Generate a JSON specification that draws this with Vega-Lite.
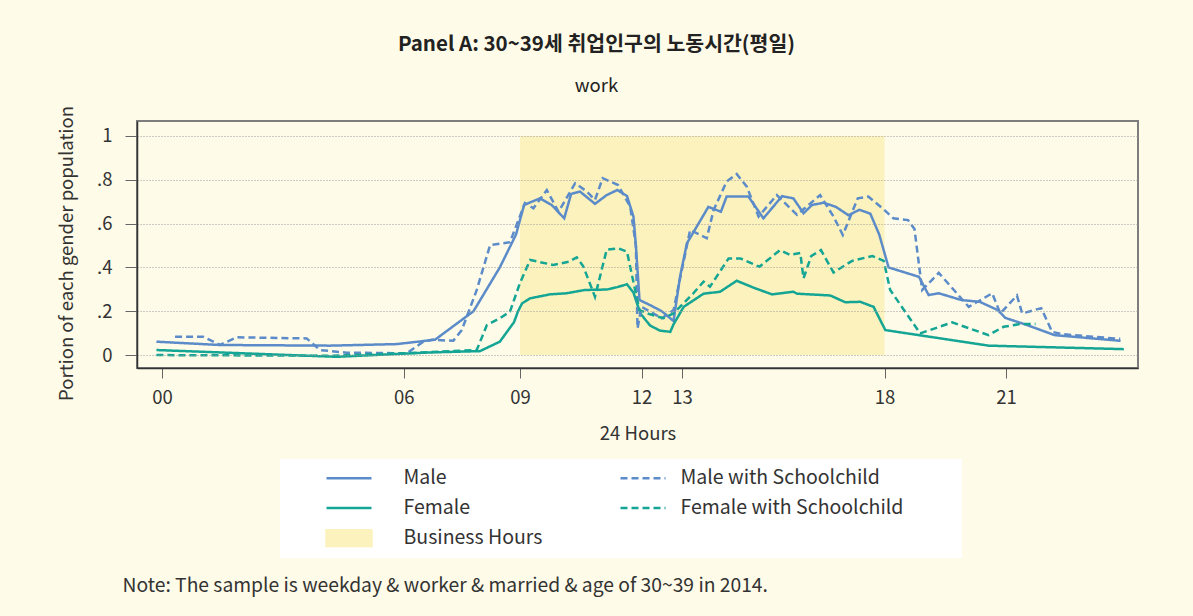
{
  "$schema": "https://vega.github.io/schema/vega-lite/v6.json",
  "width": 1001,
  "height": 247,
  "autosize": {"type": "none"},
  "padding": {"left": 137, "top": 121, "right": 55, "bottom": 248},
  "background": "#fefbe8",
  "config": {
    "view": {"fill": "#fefbe8", "stroke": "#7d7d7d", "strokeWidth": 2},
    "font": "Noto Sans CJK KR",
    "axis": {"labelFont": "Noto Sans CJK KR", "titleFont": "Noto Sans CJK KR", "labelColor": "#333", "titleColor": "#333", "titleFontWeight": "normal"},
    "legend": {"labelFont": "Noto Sans CJK KR", "titleFont": "Noto Sans CJK KR"}
  },
  "title": {
    "text": "Panel A: 30~39세 취업인구의 노동시간(평일)",
    "subtitle": "work",
    "font": "Noto Sans CJK KR",
    "fontSize": 20.5,
    "fontWeight": "bold",
    "color": "#222",
    "subtitleFont": "Noto Sans CJK KR",
    "subtitleFontSize": 18.5,
    "subtitleColor": "#222",
    "subtitlePadding": 22,
    "offset": 10,
    "dx": -41,
    "anchor": "middle"
  },
  "resolve": {"axis": {"x": "independent"}},
  "layer": [
    {
      "data": {"values": [{"start": 9, "end": 18, "lo": 0, "hi": 1, "series": "Business Hours"}]},
      "mark": {"type": "rect"},
      "encoding": {
        "x": {"field": "start", "type": "quantitative", "scale": {"domain": [-0.46, 24.26], "nice": false, "zero": false},
          "axis": {"orient": "top", "title": "Note: The sample is weekday & worker & married & age of 30~39 in 2014.", "labels": false, "ticks": false, "domain": false, "grid": false, "titleX": -15, "titleY": 464, "titleAlign": "left", "titleAnchor": "start", "titleBaseline": "middle", "titleFontSize": 19.3, "titlePadding": 0}},
        "x2": {"field": "end"},
        "y": {"field": "lo", "type": "quantitative", "scale": {"domain": [-0.059, 1.068], "nice": false, "zero": false}},
        "y2": {"field": "hi"},
        "color": {"field": "series", "type": "nominal",
          "scale": {"domain": ["Male", "Female", "Business Hours", "Male with Schoolchild", "Female with Schoolchild"], "range": ["#5b8bc9", "#14a594", "#fcf2bd", "#5b8bc9", "#14a594"]},
          "legend": {
            "orient": "none", "legendX": 143, "legendY": 338, "columns": 2,
            "title": "\u00a0", "titleOrient": "right", "titleFontSize": 19.5, "titlePadding": 49, "titleColor": "#333",
            "fillColor": "white", "padding": 10, "symbolType": "stroke", "symbolSize": 2025, "symbolStrokeWidth": 2.5,
            "symbolOffset": 35, "labelOffset": 30.5, "clipHeight": 18, "rowPadding": 10, "columnPadding": 41,
            "labelFontSize": 19.5, "labelColor": "#333", "labelLimit": 400,
            "encode": {
              "symbols": {"update": {
                "shape": {"signal": "datum.value === 'Business Hours' ? 'M-1,-0.38H1V0.38H-1Z' : 'stroke'"},
                "fill": {"signal": "datum.value === 'Business Hours' ? '#fcf2bd' : 'transparent'"},
                "stroke": {"signal": "datum.value === 'Business Hours' ? 'transparent' : (indexof(datum.value, 'Female') === 0 ? '#14a594' : '#5b8bc9')"},
                "strokeDash": {"signal": "indexof(datum.value, 'Schoolchild') >= 0 ? [7,4] : [1,0]"},
                "strokeWidth": {"value": 2.5},
                "opacity": {"value": 1}
              }},
              "labels": {"update": {
                "dx": {"signal": "indexof(datum.value, 'Schoolchild') >= 0 ? -17 : 0"}
              }}
            }
          }}
      }
    },
    {
      "data": {"values": [
        {"series":"Male","hour":0.02,"value":0.061},{"series":"Male","hour":1.59,"value":0.046},{"series":"Male","hour":4.31,"value":0.043},{"series":"Male","hour":5.95,"value":0.05},{"series":"Male","hour":6.9,"value":0.07},{"series":"Male","hour":7.85,"value":0.2},{"series":"Male","hour":8.5,"value":0.4},{"series":"Male","hour":8.9,"value":0.55},{"series":"Male","hour":9.1,"value":0.685},{"series":"Male","hour":9.49,"value":0.715},{"series":"Male","hour":9.78,"value":0.685},{"series":"Male","hour":10.09,"value":0.624},{"series":"Male","hour":10.26,"value":0.735},{"series":"Male","hour":10.48,"value":0.746},{"series":"Male","hour":10.85,"value":0.69},{"series":"Male","hour":11.14,"value":0.73},{"series":"Male","hour":11.4,"value":0.753},{"series":"Male","hour":11.64,"value":0.726},{"series":"Male","hour":11.8,"value":0.632},{"series":"Male","hour":11.86,"value":0.5},{"series":"Male","hour":11.95,"value":0.251},{"series":"Male","hour":12.21,"value":0.228},{"series":"Male","hour":12.5,"value":0.2},{"series":"Male","hour":12.79,"value":0.155},{"series":"Male","hour":12.95,"value":0.357},{"series":"Male","hour":13.12,"value":0.51},{"series":"Male","hour":13.65,"value":0.676},{"series":"Male","hour":13.96,"value":0.654},{"series":"Male","hour":14.1,"value":0.723},{"series":"Male","hour":14.64,"value":0.723},{"series":"Male","hour":15.01,"value":0.624},{"series":"Male","hour":15.47,"value":0.725},{"series":"Male","hour":15.75,"value":0.715},{"series":"Male","hour":16.0,"value":0.647},{"series":"Male","hour":16.21,"value":0.685},{"series":"Male","hour":16.5,"value":0.695},{"series":"Male","hour":16.8,"value":0.676},{"series":"Male","hour":17.11,"value":0.638},{"series":"Male","hour":17.38,"value":0.663},{"series":"Male","hour":17.65,"value":0.645},{"series":"Male","hour":17.87,"value":0.55},{"series":"Male","hour":18.1,"value":0.4},{"series":"Male","hour":18.85,"value":0.357},{"series":"Male","hour":19.09,"value":0.274},{"series":"Male","hour":19.34,"value":0.282},{"series":"Male","hour":19.9,"value":0.251},{"series":"Male","hour":20.35,"value":0.243},{"series":"Male","hour":20.8,"value":0.205},{"series":"Male","hour":20.98,"value":0.17},{"series":"Male","hour":21.52,"value":0.137},{"series":"Male","hour":22.2,"value":0.091},{"series":"Male","hour":23.83,"value":0.065},
        {"series":"Female","hour":0.02,"value":0.023},{"series":"Female","hour":4.47,"value":-0.008},{"series":"Female","hour":6.78,"value":0.012},{"series":"Female","hour":8.01,"value":0.018},{"series":"Female","hour":8.5,"value":0.061},{"series":"Female","hour":8.85,"value":0.15},{"series":"Female","hour":8.95,"value":0.2},{"series":"Female","hour":9.05,"value":0.236},{"series":"Female","hour":9.25,"value":0.259},{"series":"Female","hour":9.74,"value":0.277},{"series":"Female","hour":10.15,"value":0.282},{"series":"Female","hour":10.6,"value":0.297},{"series":"Female","hour":11.14,"value":0.299},{"series":"Female","hour":11.4,"value":0.31},{"series":"Female","hour":11.64,"value":0.323},{"series":"Female","hour":11.8,"value":0.285},{"series":"Female","hour":11.97,"value":0.19},{"series":"Female","hour":12.21,"value":0.135},{"series":"Female","hour":12.45,"value":0.112},{"series":"Female","hour":12.71,"value":0.106},{"series":"Female","hour":12.79,"value":0.14},{"series":"Female","hour":13.04,"value":0.22},{"series":"Female","hour":13.53,"value":0.28},{"series":"Female","hour":13.94,"value":0.289},{"series":"Female","hour":14.35,"value":0.339},{"series":"Female","hour":14.76,"value":0.308},{"series":"Female","hour":15.22,"value":0.277},{"series":"Female","hour":15.75,"value":0.289},{"series":"Female","hour":15.84,"value":0.28},{"series":"Female","hour":16.66,"value":0.272},{"series":"Female","hour":17.03,"value":0.241},{"series":"Female","hour":17.4,"value":0.243},{"series":"Female","hour":17.73,"value":0.22},{"series":"Female","hour":18.02,"value":0.114},{"series":"Female","hour":20.57,"value":0.043},{"series":"Female","hour":23.91,"value":0.027},
        {"series":"Male with Schoolchild","hour":0.48,"value":0.084},{"series":"Male with Schoolchild","hour":1.17,"value":0.084},{"series":"Male with Schoolchild","hour":1.59,"value":0.046},{"series":"Male with Schoolchild","hour":2.0,"value":0.081},{"series":"Male with Schoolchild","hour":3.73,"value":0.076},{"series":"Male with Schoolchild","hour":4.06,"value":0.023},{"series":"Male with Schoolchild","hour":4.72,"value":0.011},{"series":"Male with Schoolchild","hour":6.2,"value":0.008},{"series":"Male with Schoolchild","hour":6.61,"value":0.061},{"series":"Male with Schoolchild","hour":6.82,"value":0.07},{"series":"Male with Schoolchild","hour":7.35,"value":0.065},{"series":"Male with Schoolchild","hour":7.56,"value":0.114},{"series":"Male with Schoolchild","hour":7.93,"value":0.297},{"series":"Male with Schoolchild","hour":8.26,"value":0.502},{"series":"Male with Schoolchild","hour":8.75,"value":0.515},{"series":"Male with Schoolchild","hour":9.12,"value":0.693},{"series":"Male with Schoolchild","hour":9.33,"value":0.67},{"series":"Male with Schoolchild","hour":9.66,"value":0.753},{"series":"Male with Schoolchild","hour":9.95,"value":0.654},{"series":"Male with Schoolchild","hour":10.36,"value":0.784},{"series":"Male with Schoolchild","hour":10.65,"value":0.746},{"series":"Male with Schoolchild","hour":10.85,"value":0.708},{"series":"Male with Schoolchild","hour":11.04,"value":0.807},{"series":"Male with Schoolchild","hour":11.42,"value":0.776},{"series":"Male with Schoolchild","hour":11.72,"value":0.677},{"series":"Male with Schoolchild","hour":11.86,"value":0.5},{"series":"Male with Schoolchild","hour":11.9,"value":0.122},{"series":"Male with Schoolchild","hour":12.0,"value":0.22},{"series":"Male with Schoolchild","hour":12.5,"value":0.168},{"series":"Male with Schoolchild","hour":12.79,"value":0.205},{"series":"Male with Schoolchild","hour":13.2,"value":0.571},{"series":"Male with Schoolchild","hour":13.61,"value":0.533},{"series":"Male with Schoolchild","hour":13.78,"value":0.662},{"series":"Male with Schoolchild","hour":14.1,"value":0.791},{"series":"Male with Schoolchild","hour":14.35,"value":0.826},{"series":"Male with Schoolchild","hour":14.6,"value":0.768},{"series":"Male with Schoolchild","hour":14.89,"value":0.632},{"series":"Male with Schoolchild","hour":15.34,"value":0.73},{"series":"Male with Schoolchild","hour":15.84,"value":0.64},{"series":"Male with Schoolchild","hour":16.41,"value":0.73},{"series":"Male with Schoolchild","hour":16.74,"value":0.632},{"series":"Male with Schoolchild","hour":16.97,"value":0.548},{"series":"Male with Schoolchild","hour":17.34,"value":0.715},{"series":"Male with Schoolchild","hour":17.6,"value":0.723},{"series":"Male with Schoolchild","hour":17.98,"value":0.665},{"series":"Male with Schoolchild","hour":18.22,"value":0.624},{"series":"Male with Schoolchild","hour":18.58,"value":0.616},{"series":"Male with Schoolchild","hour":18.74,"value":0.575},{"series":"Male with Schoolchild","hour":18.93,"value":0.297},{"series":"Male with Schoolchild","hour":19.34,"value":0.375},{"series":"Male with Schoolchild","hour":20.08,"value":0.22},{"series":"Male with Schoolchild","hour":20.66,"value":0.282},{"series":"Male with Schoolchild","hour":20.86,"value":0.19},{"series":"Male with Schoolchild","hour":21.27,"value":0.272},{"series":"Male with Schoolchild","hour":21.4,"value":0.19},{"series":"Male with Schoolchild","hour":21.87,"value":0.214},{"series":"Male with Schoolchild","hour":22.14,"value":0.106},{"series":"Male with Schoolchild","hour":22.4,"value":0.095},{"series":"Male with Schoolchild","hour":23.82,"value":0.074},
        {"series":"Female with Schoolchild","hour":0.02,"value":0.0},{"series":"Female with Schoolchild","hour":4.31,"value":-0.003},{"series":"Female with Schoolchild","hour":6.12,"value":0.008},{"series":"Female with Schoolchild","hour":7.93,"value":0.023},{"series":"Female with Schoolchild","hour":8.18,"value":0.137},{"series":"Female with Schoolchild","hour":8.5,"value":0.168},{"series":"Female with Schoolchild","hour":8.75,"value":0.198},{"series":"Female with Schoolchild","hour":9.0,"value":0.33},{"series":"Female with Schoolchild","hour":9.25,"value":0.434},{"series":"Female with Schoolchild","hour":9.82,"value":0.411},{"series":"Female with Schoolchild","hour":10.2,"value":0.426},{"series":"Female with Schoolchild","hour":10.4,"value":0.446},{"series":"Female with Schoolchild","hour":10.56,"value":0.405},{"series":"Female with Schoolchild","hour":10.85,"value":0.266},{"series":"Female with Schoolchild","hour":11.14,"value":0.481},{"series":"Female with Schoolchild","hour":11.42,"value":0.487},{"series":"Female with Schoolchild","hour":11.64,"value":0.472},{"series":"Female with Schoolchild","hour":11.78,"value":0.35},{"series":"Female with Schoolchild","hour":11.95,"value":0.205},{"series":"Female with Schoolchild","hour":12.21,"value":0.186},{"series":"Female with Schoolchild","hour":12.54,"value":0.168},{"series":"Female with Schoolchild","hour":12.79,"value":0.19},{"series":"Female with Schoolchild","hour":13.28,"value":0.282},{"series":"Female with Schoolchild","hour":13.53,"value":0.335},{"series":"Female with Schoolchild","hour":13.69,"value":0.312},{"series":"Female with Schoolchild","hour":14.15,"value":0.441},{"series":"Female with Schoolchild","hour":14.44,"value":0.441},{"series":"Female with Schoolchild","hour":14.91,"value":0.403},{"series":"Female with Schoolchild","hour":15.42,"value":0.479},{"series":"Female with Schoolchild","hour":15.67,"value":0.457},{"series":"Female with Schoolchild","hour":15.92,"value":0.466},{"series":"Female with Schoolchild","hour":16.0,"value":0.35},{"series":"Female with Schoolchild","hour":16.19,"value":0.452},{"series":"Female with Schoolchild","hour":16.43,"value":0.479},{"series":"Female with Schoolchild","hour":16.74,"value":0.377},{"series":"Female with Schoolchild","hour":17.2,"value":0.43},{"series":"Female with Schoolchild","hour":17.7,"value":0.452},{"series":"Female with Schoolchild","hour":17.98,"value":0.43},{"series":"Female with Schoolchild","hour":18.14,"value":0.297},{"series":"Female with Schoolchild","hour":18.88,"value":0.099},{"series":"Female with Schoolchild","hour":19.67,"value":0.149},{"series":"Female with Schoolchild","hour":20.57,"value":0.091},{"series":"Female with Schoolchild","hour":20.94,"value":0.129},{"series":"Female with Schoolchild","hour":21.36,"value":0.142},{"series":"Female with Schoolchild","hour":21.73,"value":0.142}
      ]},
      "mark": {"type": "line", "strokeWidth": 2.5, "interpolate": "linear"},
      "encoding": {
        "x": {"field": "hour", "type": "quantitative", "scale": {"domain": [-0.46, 24.26], "nice": false, "zero": false},
          "axis": {"orient": "bottom", "title": "24 Hours", "values": [0.16, 6.13, 9, 12, 13, 18, 21],
            "labelExpr": "datum.value < 1 ? '00' : datum.value < 7 ? '06' : datum.value < 10 ? '09' : format(datum.value, 'd')",
            "grid": false, "tickSize": 10, "tickColor": "#666", "domainColor": "#333", "domainWidth": 1.5,
            "labelFontSize": 18.5, "labelPadding": 10, "titleFontSize": 18.5, "titlePadding": 18, "labelFlush": false, "labelOverlap": false}},
        "y": {"field": "value", "type": "quantitative", "scale": {"domain": [-0.059, 1.068], "nice": false, "zero": false},
          "axis": {"title": "Portion of each gender population", "values": [0, 0.2, 0.4, 0.6, 0.8, 1],
            "labelExpr": "datum.value == 0 ? '0' : datum.value == 1 ? '1' : replace(format(datum.value, '.1f'), '0.', '.')",
            "grid": true, "gridDash": [1, 2], "gridColor": "#9a9a9a", "gridWidth": 1, "zindex": 1,
            "tickSize": 12, "tickColor": "#666", "domainColor": "#333", "domainWidth": 1.5,
            "labelFontSize": 18.5, "labelPadding": 13, "titleFontSize": 18.5,
            "titleX": -71, "titleY": 132, "titleAngle": -90, "titleAlign": "center", "titleBaseline": "middle"}},
        "color": {"field": "series", "type": "nominal",
          "scale": {"domain": ["Male", "Female", "Business Hours", "Male with Schoolchild", "Female with Schoolchild"], "range": ["#5b8bc9", "#14a594", "#fcf2bd", "#5b8bc9", "#14a594"]}},
        "strokeDash": {"field": "series", "type": "nominal",
          "scale": {"domain": ["Male", "Female", "Business Hours", "Male with Schoolchild", "Female with Schoolchild"], "range": [[1, 0], [1, 0], [1, 0], [7, 4], [7, 4]]},
          "legend": null}
      }
    }
  ]
}
